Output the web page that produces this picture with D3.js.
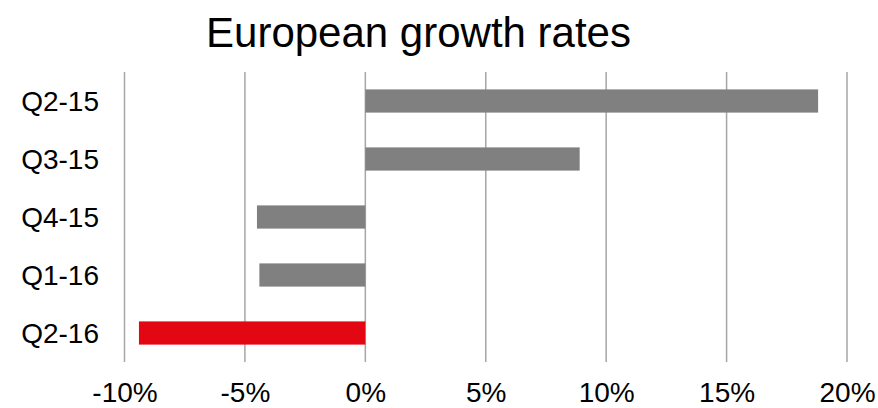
<!DOCTYPE html>
<html>
<head>
<meta charset="utf-8">
<script src="https://cdn.jsdelivr.net/npm/d3@7"></script>
<style>
  html, body { margin: 0; padding: 0; background: #fff; overflow: hidden; }
  svg { display: block; font-family: "Liberation Sans", Arial, sans-serif; }
</style>
</head>
<body>
<svg id="chart" width="878" height="408"></svg>
<script>
// Quarterly growth, in percent
const quarters = ["Q2-15", "Q3-15", "Q4-15", "Q1-16", "Q2-16"];
const growth = [18.8, 8.9, -4.5, -4.4, -9.4];
const highlighted = ["Q2-16"];
const tickValues = [-10, -5, 0, 5, 10, 15, 20];

const svg = d3.select("#chart");
const margin = { top: 72, left: 124.5, right: 31, bottom: 46 };
const W = 878, H = 408;

const x = d3.scaleLinear()
  .domain([-10, 20])
  .range([margin.left, W - margin.right]);

const y = d3.scaleBand()
  .domain(quarters)
  .range([margin.top, H - margin.bottom])
  .paddingInner(0.6)
  .paddingOuter(0.3);

// Title
svg.append("text")
  .attr("x", 418.5)
  .attr("y", 47)
  .attr("text-anchor", "middle")
  .attr("font-size", 42)
  .attr("fill", "#000")
  .text("European growth rates");

// Vertical gridlines
svg.append("g")
  .selectAll("line")
  .data(tickValues)
  .join("line")
  .attr("x1", d => x(d))
  .attr("x2", d => x(d))
  .attr("y1", margin.top)
  .attr("y2", H - margin.bottom)
  .attr("stroke", "#a6a6a6")
  .attr("stroke-width", 1.5);

// Bars
const rows = quarters.map((q, i) => ({ q, v: growth[i] }));
svg.append("g")
  .selectAll("rect")
  .data(rows)
  .join("rect")
  .attr("x", d => x(Math.min(0, d.v)))
  .attr("width", d => Math.abs(x(d.v) - x(0)))
  .attr("y", d => y(d.q))
  .attr("height", y.bandwidth())
  .attr("fill", d => highlighted.includes(d.q) ? "#e30613" : "#808080");

// Bottom axis labels
const xAxis = d3.axisBottom(x)
  .tickValues(tickValues)
  .tickFormat(d => d + "%")
  .tickSize(0)
  .tickPadding(0);
const gx = svg.append("g")
  .attr("transform", `translate(0,${H - margin.bottom})`)
  .call(xAxis);
gx.select(".domain").remove();
gx.selectAll("text")
  .attr("font-size", 28)
  .attr("font-family", "Liberation Sans, Arial, sans-serif")
  .attr("fill", "#000")
  .attr("dy", null)
  .attr("y", 39.5);

// Category labels
const yAxis = d3.axisLeft(y).tickSize(0).tickPadding(0);
const gy = svg.append("g")
  .attr("transform", "translate(99,0)")
  .call(yAxis);
gy.select(".domain").remove();
gy.selectAll("text")
  .attr("font-size", 28)
  .attr("font-family", "Liberation Sans, Arial, sans-serif")
  .attr("fill", "#000")
  .attr("dy", "0.35em");
</script>
</body>
</html>
